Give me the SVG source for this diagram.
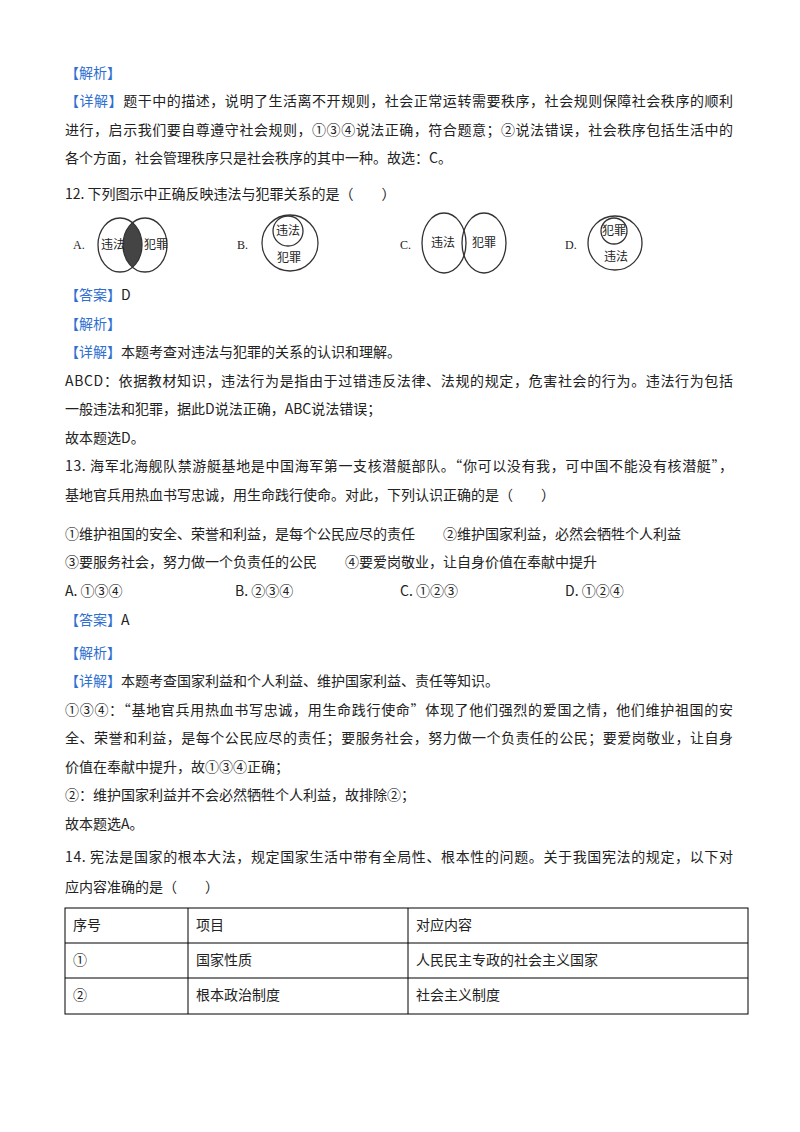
<svg xmlns="http://www.w3.org/2000/svg" width="800" height="1132" viewBox="0 0 800 1132">
<style>
text{font-family:"Noto Sans CJK SC","Noto Sans",sans-serif;font-size:14px;fill:#222}
.b{fill:#2f6fd0}
.s{font-family:"Liberation Serif","Noto Sans CJK SC",serif;font-size:12px}
.c{fill:none;stroke:#333;stroke-width:1.3}
.t{fill:none;stroke:#000;stroke-width:1}
</style>
<rect width="800" height="1132" fill="#fff"/>
<text x="65" y="78"><tspan class="b">【解析】</tspan></text>
<text x="65" y="106" textLength="668"><tspan class="b">【详解】</tspan>题干中的描述，说明了生活离不开规则，社会正常运转需要秩序，社会规则保障社会秩序的顺利</text>
<text x="65" y="135" textLength="668">进行，启示我们要自尊遵守社会规则，①③④说法正确，符合题意；②说法错误，社会秩序包括生活中的</text>
<text x="65" y="163">各个方面，社会管理秩序只是社会秩序的其中一种。故选：C。</text>
<text x="65" y="199">12. 下列图示中正确反映违法与犯罪关系的是（　　）</text>
<g id="diagrams">
<defs><clipPath id="cl"><ellipse cx="120" cy="245" rx="22" ry="27"/></clipPath></defs>
<text class="s" x="73" y="249">A.</text>
<ellipse cx="145" cy="245" rx="22" ry="27" fill="#444" clip-path="url(#cl)"/>
<ellipse class="c" cx="120" cy="245" rx="22" ry="27"/>
<ellipse class="c" cx="145" cy="245" rx="22" ry="27"/>
<text class="s" x="101" y="249">违法</text><text class="s" x="144" y="249">犯罪</text>
<text class="s" x="237" y="249">B.</text>
<circle class="c" cx="290" cy="243" r="28"/><circle class="c" cx="288" cy="231" r="15"/>
<text class="s" x="276" y="235">违法</text><text class="s" x="277" y="262">犯罪</text>
<text class="s" x="400" y="249">C.</text>
<ellipse class="c" cx="444" cy="243" rx="22" ry="30"/><ellipse class="c" cx="484" cy="243" rx="22" ry="30"/>
<text class="s" x="431" y="247">违法</text><text class="s" x="472" y="247">犯罪</text>
<text class="s" x="565" y="249">D.</text>
<circle class="c" cx="615" cy="243" r="27"/><circle class="c" cx="614" cy="231" r="13"/>
<text class="s" x="602" y="235">犯罪</text><text class="s" x="604" y="261">违法</text>
</g>
<text x="65" y="300"><tspan class="b">【答案】</tspan>D</text>
<text x="65" y="329"><tspan class="b">【解析】</tspan></text>
<text x="65" y="357"><tspan class="b">【详解】</tspan>本题考查对违法与犯罪的关系的认识和理解。</text>
<text x="65" y="386" textLength="668">ABCD：依据教材知识，违法行为是指由于过错违反法律、法规的规定，危害社会的行为。违法行为包括</text>
<text x="65" y="414">一般违法和犯罪，据此D说法正确，ABC说法错误；</text>
<text x="65" y="443">故本题选D。</text>
<text x="65" y="471" textLength="668">13. 海军北海舰队禁游艇基地是中国海军第一支核潜艇部队。“你可以没有我，可中国不能没有核潜艇”，</text>
<text x="65" y="500">基地官兵用热血书写忠诚，用生命践行使命。对此，下列认识正确的是（　　）</text>
<text x="65" y="539">①维护祖国的安全、荣誉和利益，是每个公民应尽的责任　　②维护国家利益，必然会牺牲个人利益</text>
<text x="65" y="567">③要服务社会，努力做一个负责任的公民　　④要爱岗敬业，让自身价值在奉献中提升</text>
<text x="65" y="596">A. ①③④</text><text x="235" y="596">B. ②③④</text><text x="400" y="596">C. ①②③</text><text x="565" y="596">D. ①②④</text>
<text x="65" y="625"><tspan class="b">【答案】</tspan>A</text>
<text x="65" y="658"><tspan class="b">【解析】</tspan></text>
<text x="65" y="686"><tspan class="b">【详解】</tspan>本题考查国家利益和个人利益、维护国家利益、责任等知识。</text>
<text x="65" y="715" textLength="668">①③④：“基地官兵用热血书写忠诚，用生命践行使命”体现了他们强烈的爱国之情，他们维护祖国的安</text>
<text x="65" y="743" textLength="668">全、荣誉和利益，是每个公民应尽的责任；要服务社会，努力做一个负责任的公民；要爱岗敬业，让自身</text>
<text x="65" y="772">价值在奉献中提升，故①③④正确；</text>
<text x="65" y="800">②：维护国家利益并不会必然牺牲个人利益，故排除②；</text>
<text x="65" y="829">故本题选A。</text>
<text x="65" y="862" textLength="668">14. 宪法是国家的根本大法，规定国家生活中带有全局性、根本性的问题。关于我国宪法的规定，以下对</text>
<text x="65" y="892">应内容准确的是（　　）</text>
<g id="table">
<rect class="t" x="65" y="908" width="683" height="106"/>
<line class="t" x1="65" y1="943" x2="748" y2="943"/>
<line class="t" x1="65" y1="978" x2="748" y2="978"/>
<line class="t" x1="188" y1="908" x2="188" y2="1014"/>
<line class="t" x1="408" y1="908" x2="408" y2="1014"/>
<text x="73" y="930">序号</text><text x="196" y="930">项目</text><text x="416" y="930">对应内容</text>
<text x="73" y="965">①</text><text x="196" y="965">国家性质</text><text x="416" y="965">人民民主专政的社会主义国家</text>
<text x="73" y="1000">②</text><text x="196" y="1000">根本政治制度</text><text x="416" y="1000">社会主义制度</text>
</g>
</svg>
